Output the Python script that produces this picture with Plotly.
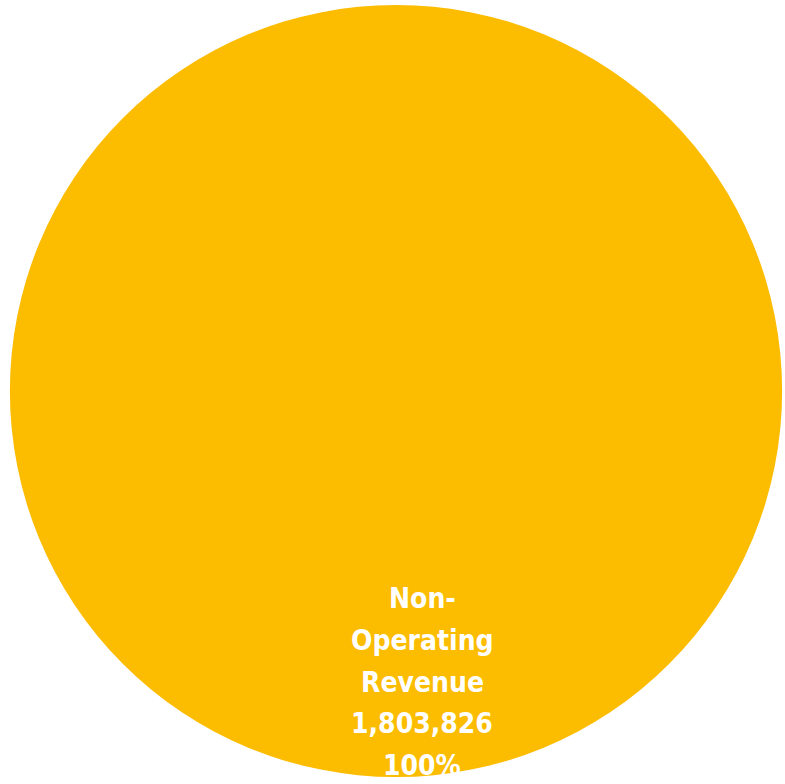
import plotly.graph_objects as go

labels = ["Non-Operating Revenue"]
values = [1803826]
percents = [100]
colors = ["#FCBC00"]

fig = go.Figure(go.Pie(
    labels=labels, values=values, marker=dict(colors=colors, line=dict(width=0)),
    textinfo="none", hoverinfo="skip", sort=False, showlegend=False,
    domain=dict(x=[10/785, 782/785], y=[1-778/784, 1-4/784]),
))

first, rest = labels[0].split(" ", 1)
lines = ["Non-", first.replace("Non-", ""), rest, f"{values[0]:,}", f"{percents[0]}%"]
line_y_px = [598, 640, 682, 723, 765]
for txt, ypx in zip(lines, line_y_px):
    fig.add_annotation(x=422/785, y=1-ypx/784, xref="paper", yref="paper",
                       text=txt, showarrow=False, xanchor="center", yanchor="middle",
                       font=dict(family="Liberation Sans Narrow, DejaVu Sans Condensed, sans-serif",
                                 size=28, color="white", weight="bold"))

fig.update_layout(width=785, height=784, margin=dict(l=0, r=0, t=0, b=0),
                  paper_bgcolor="white", plot_bgcolor="white")
fig.write_html("out.html")
